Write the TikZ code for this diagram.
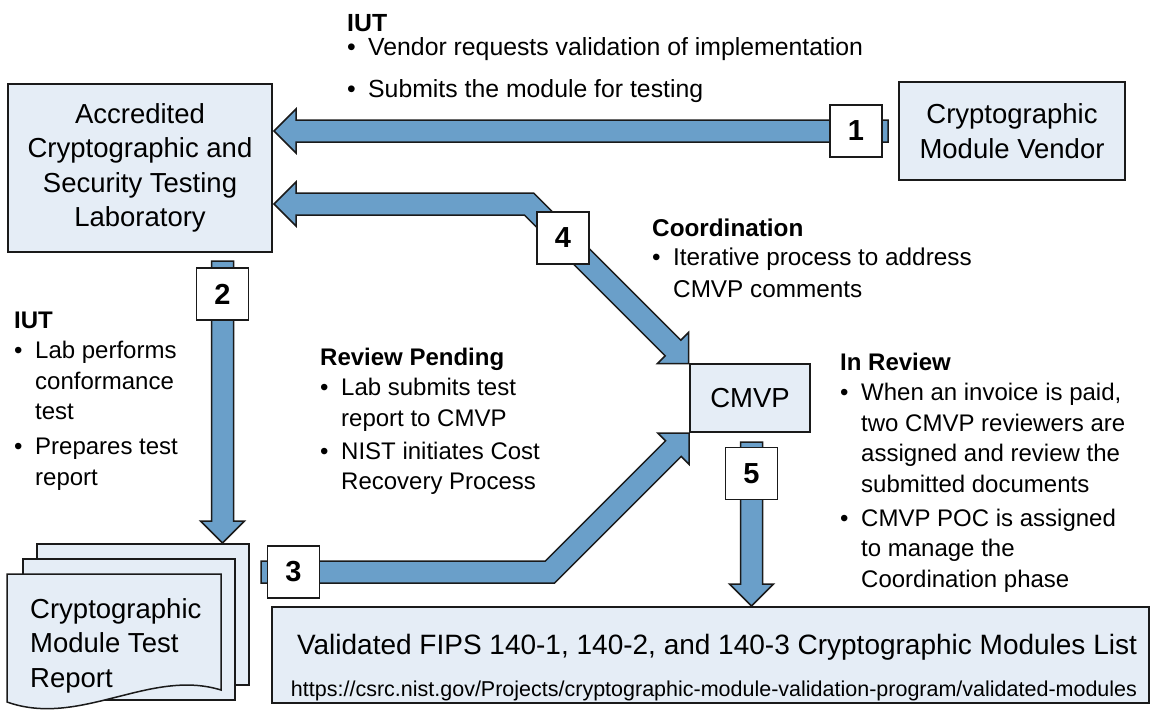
\documentclass[tikz,border=0pt]{standalone}
\usepackage{fontspec}
\setmainfont{Liberation Sans}
\definecolor{boxfill}{RGB}{229,237,246}
\definecolor{arrowfill}{RGB}{106,159,201}
\definecolor{edge}{RGB}{26,26,26}
\newcommand{\bul}{\makebox[21pt][l]{\textbullet}}
\newcommand{\ind}{\hspace*{21pt}}
\newcommand{\fst}{\rule{0pt}{19pt}}
\begin{document}
\begin{tikzpicture}[x=1pt,y=-1pt,
  box/.style={draw=edge, fill=boxfill, line width=1.5pt},
  bigtxt/.style={align=center, inner sep=0pt, font=\fontsize{27.5}{34.5}\selectfont},
  numbox/.style={draw=edge, fill=white, line width=1.5pt, minimum width=52pt, minimum height=52pt, inner sep=0pt, font=\fontsize{29}{29}\bfseries\selectfont},
  flow/.style={draw=edge, fill=arrowfill, line width=1.5pt, line join=miter},
  note/.style={anchor=north west, inner sep=0pt, align=left, font=\fontsize{24}{30.5}\selectfont}]
\useasboundingbox (0,0) rectangle (1154,715);

% block arrows
% 1: vendor -> lab
\draw[flow] (888,120) -- (296,120) -- (296,109) -- (274,131) -- (296,153) -- (296,142) -- (888,142) -- cycle;
% 4: lab <-> CMVP
\draw[flow] (274,204) -- (296,182) -- (296,193) -- (533.6,193) -- (680.8,340.2) -- (688.6,332.4) -- (688.6,363.6) -- (657.4,363.6) -- (665.2,355.8) -- (524.4,215) -- (296,215) -- (296,226) -- cycle;
% 2: lab -> report
\draw[flow] (211.5,261) -- (233.5,261) -- (233.5,521) -- (244.5,521) -- (222.5,543) -- (200.5,521) -- (211.5,521) -- cycle;
% 3: report -> CMVP
\draw[flow] (261,561) -- (545.4,561) -- (665.6,440.8) -- (657.8,433) -- (689,433) -- (689,464.2) -- (681.2,456.4) -- (554.6,583) -- (261,583) -- cycle;
% 5: CMVP -> list
\draw[flow] (740.5,442) -- (762.5,442) -- (762.5,584) -- (773.5,584) -- (751.5,606) -- (729.5,584) -- (740.5,584) -- cycle;

% boxes
\node[box, bigtxt, minimum width=264pt, minimum height=168pt] (lab) at (140,168) {Accredited\\Cryptographic and\\Security Testing\\Laboratory};
\node[box, bigtxt, minimum width=226pt, minimum height=98pt] (vendor) at (1012,131) {Cryptographic\\Module Vendor};
\node[box, bigtxt, minimum width=120pt, minimum height=68pt] (cmvp) at (750,398) {CMVP};
\node[box, minimum width=877pt, minimum height=96pt] (list) at (710.5,655) {};
\node[inner sep=0pt, anchor=base, font=\fontsize{28}{30}\selectfont] (listtitle) at (717,654) {Validated FIPS 140-1, 140-2, and 140-3 Cryptographic Modules List};
\node[inner sep=0pt, anchor=base, font=\fontsize{21.5}{24}\selectfont] (listurl) at (714,696) {https://csrc.nist.gov/Projects/cryptographic-module-validation-program/validated-modules};

% report stack
\draw[box] (37,544) rectangle (249,685);
\draw[box] (23,559) rectangle (235,700);
\draw[box] (7,574) -- (221,574) -- (221,690) .. controls (150,668) and (80,728) .. (7,702) -- cycle;
\node[anchor=north west, inner sep=0pt, align=left, font=\fontsize{27.5}{34.5}\selectfont] (report) at (30,597) {\rule{0pt}{21pt}Cryptographic\\Module Test\\Report};

% number boxes
\node[numbox] (n1) at (856,131) {1};
\node[numbox] (n2) at (222.5,294) {2};
\node[numbox] (n3) at (293.5,572) {3};
\node[numbox] (n4) at (563,238) {4};
\node[numbox] (n5) at (751.5,473.5) {5};

% notes
\node[note, font=\fontsize{24.8}{30.5}\selectfont] (t1) at (347,12) {\fst\textbf{IUT}\\[-6pt]\bul Vendor requests validation of implementation\\[11.5pt]\bul Submits the module for testing};
\node[note, font=\fontsize{24.3}{30.5}\selectfont] (t4) at (652,217) {\fst\textbf{Coordination}\\[-1.5pt]\bul Iterative process to address\\[1.5pt]\ind CMVP comments};
\node[note] (t2) at (14,309) {\fst\textbf{IUT}\\\bul Lab performs\\\ind conformance\\\ind test\\[4.5pt]\bul Prepares test\\\ind report};
\node[note] (t3) at (320,346) {\fst\textbf{Review Pending}\\\bul Lab submits test\\\ind report to CMVP\\[2.5pt]\bul NIST initiates Cost\\\ind Recovery Process};
\node[note] (t5) at (840,351) {\fst\textbf{In Review}\\\bul When an invoice is paid,\\\ind two CMVP reviewers are\\\ind assigned and review the\\\ind submitted documents\\[3.5pt]\bul CMVP POC is assigned\\\ind to manage the\\\ind Coordination phase};
\end{tikzpicture}
\end{document}
